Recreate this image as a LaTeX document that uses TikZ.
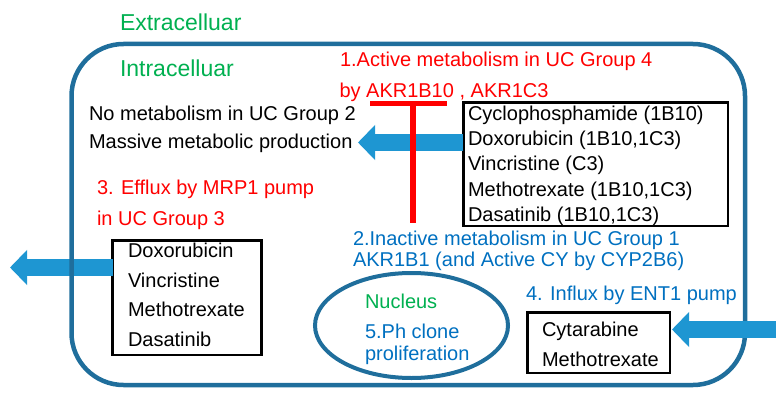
\documentclass[tikz,border=0pt]{standalone}
\usepackage{fontspec}
\setmainfont{Liberation Sans}
\usetikzlibrary{arrows.meta,shapes.geometric}
\definecolor{cellblue}{RGB}{31,110,156}
\definecolor{pumpblue}{RGB}{30,150,210}
\definecolor{txtblue}{RGB}{0,112,192}
\definecolor{txtgreen}{RGB}{0,176,80}
\definecolor{txtred}{RGB}{255,0,0}

\begin{document}
\begin{tikzpicture}[x=1pt,y=-1pt,
  txt/.style={inner sep=0pt, outer sep=0pt, anchor=base west, font=\fontsize{20}{24}\selectfont},
  big/.style={txt, font=\fontsize{23}{28}\selectfont, text=txtgreen},
  drugbox/.style={draw=black, line width=2.6pt, rectangle, inner sep=0pt, outer sep=0pt, anchor=north west},
  membrane/.style={draw=cellblue, line width=4.5pt, rectangle, rounded corners=52pt, inner sep=0pt, outer sep=0pt},
  nucleusshape/.style={draw=cellblue, line width=4pt, ellipse, inner sep=0pt, outer sep=0pt},
  pump/.style={draw=pumpblue, line width=16.5pt, line cap=butt, -{Triangle[length=17pt,width=34pt]}},
  block/.style={draw=txtred, line width=5pt, line cap=butt}]
\useasboundingbox (0,0) rectangle (783,406);

% efflux box and its pump arrow (lies under the membrane)
\node[drugbox, minimum width=149pt, minimum height=114.5pt] (box2) at (112.5,240.3) {};
\node[txt] (e1) at (128,257.5) {Doxorubicin};
\node[txt] (e2) at (128,287.2) {Vincristine};
\node[txt] (e3) at (128,316.9) {Methotrexate};
\node[txt] (e4) at (128,346.6) {Dasatinib};
\coordinate (tipOut) at (10,267.5);
\draw[pump] (box2.west |- tipOut) -- (tipOut);

% cell membrane
\node[membrane, minimum width=673.5pt, minimum height=341pt] (cell) at (408.25,214.5) {};

% compartment labels
\node[big] (extra) at (120,31) {Extracelluar};
\node[big] (intra) at (120,76.5) {Intracelluar};

% active metabolism
\node[txt, text=txtred] (act1) at (340,66.5) {1.Active metabolism in UC Group 4};
\node[txt, text=txtred] (act2) at (339.5,97.5) {by AKR1B10 , AKR1C3};

\node[txt] (nomet) at (89,121) {No metabolism in UC Group 2};
\node[txt] (massive) at (89,149) {Massive metabolic production};

\node[drugbox, minimum width=264.7pt, minimum height=123.5pt] (box1) at (463.3,102.5) {};
\node[txt] (d1) at (468,121) {Cyclophosphamide (1B10)};
\node[txt] (d2) at (468,146) {Doxorubicin (1B10,1C3)};
\node[txt] (d3) at (468,171) {Vincristine (C3)};
\node[txt] (d4) at (468,196) {Methotrexate (1B10,1C3)};
\node[txt] (d5) at (468,221) {Dasatinib (1B10,1C3)};

\coordinate (tipMid) at (358,142.5);
\draw[pump] (box1.west |- tipMid) -- (tipMid);

% inhibition bar
\coordinate (barL) at (370,103.5);
\coordinate (barR) at (447,103.5);
\coordinate (stemTop) at (413,103.5);
\coordinate (stemEnd) at (413,223);
\draw[block, line width=5.5pt] (stemTop) -- (stemEnd);
\draw[block] (barL) -- (barR);

% efflux labels
\node[txt, text=txtred] (eff1) at (97,194.5) {3. Efflux by MRP1 pump};
\node[txt, text=txtred] (eff2) at (97,225) {in UC Group 3};

% inactive metabolism
\node[txt, text=txtblue] (inact1) at (353,245) {2.Inactive metabolism in UC Group 1};
\node[txt, text=txtblue] (inact2) at (353,266.7) {AKR1B1 (and Active CY by CYP2B6)};

% nucleus
\node[nucleusshape, minimum width=193pt, minimum height=105pt] (nuc) at (411.5,325.5) {};
\node[txt, text=txtgreen] (nuclbl) at (365,308.3) {Nucleus};
\node[txt, text=txtblue] (ph1) at (365,338) {5.Ph clone};
\node[txt, text=txtblue] (ph2) at (365,360) {proliferation};

% influx
\node[txt, text=txtblue] (infl) at (526,300.7) {4. Influx by ENT1 pump};
\node[drugbox, minimum width=142.5pt, minimum height=60.5pt] (box3) at (527.5,312.5) {};
\node[txt] (c1) at (542,336.7) {Cytarabine};
\node[txt] (c2) at (542,366.7) {Methotrexate};
\coordinate (tipIn) at (672,329.5);
\coordinate (inStart) at (776,329.5);
\draw[pump] (inStart) -- (tipIn);
\end{tikzpicture}
\end{document}
